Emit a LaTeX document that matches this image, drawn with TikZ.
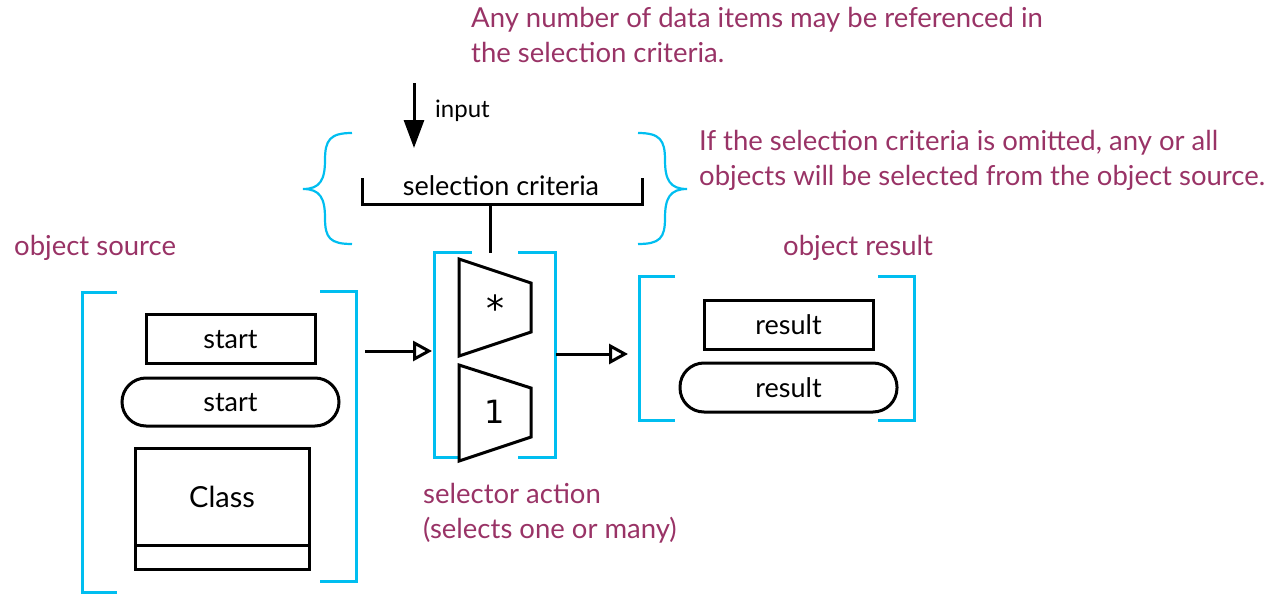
\documentclass[tikz,border=0pt]{standalone}
\usepackage{fontspec}
\setmainfont{Lato}
\newfontfamily\symfont{DejaVu Sans}
\usetikzlibrary{arrows.meta}
\definecolor{note}{HTML}{993366}
\definecolor{brk}{HTML}{00BEF0}
\tikzset{
  blk/.style={draw=black,line width=3pt},
  cy/.style={draw=brk,line width=3pt},
  lbl/.style={font=\fontsize{27}{30}\selectfont,text=black,inner sep=0pt},
  notetext/.style={font=\fontsize{27.5}{35}\selectfont,text=note,inner sep=0pt,anchor=base west},
  openarrow/.style={blk,-{Triangle[open,length=19pt,width=20pt,line width=3pt]}},
}
\begin{document}
\begin{tikzpicture}[x=1pt,y=-1pt]
\useasboundingbox (0,0) rectangle (1282,594);
% notes
\node[notetext] (n1a) at (471,28) {Any number of data items may be referenced in};
\node[notetext] (n1b) at (471,63) {the selection criteria.};
\node[notetext] (n2a) at (699,150) {If the selection criteria is omitted, any or all};
\node[notetext] (n2b) at (699,185) {objects will be selected from the object source.};
\node[notetext] (n3) at (14,255) {object source};
\node[notetext] (n4) at (783,255) {object result};
\node[notetext] (n5a) at (423,503) {selector action};
\node[notetext] (n5b) at (423,538) {(selects one or many)};
% input
\coordinate (inTop) at (414,83);
\coordinate (inTip) at (414,148);
\draw[blk,-{Triangle[length=28pt,width=20pt]}] (inTop) -- (inTip);
\node[lbl,anchor=base west,font=\fontsize{24}{26}\selectfont] (inlbl) at (435,117) {input};
% selection criteria
\node[lbl,anchor=base] (crit) at (501,195) {selection criteria};
\coordinate (cL) at (362,178);
\coordinate (cR) at (642,178);
\coordinate (cStem) at (490,204);
\coordinate (cStemEnd) at (490,253);
\draw[blk] (cL) -- (362,204) -- (642,204) -- (cR);
\draw[blk] (cStem) -- (cStemEnd);
% braces
\draw[cy,line width=2.2pt] (352,133) .. controls (330,133) and (325,140) .. (325,160)
  .. controls (325,180) and (320,189) .. (303,189)
  .. controls (320,189) and (325,198) .. (325,218)
  .. controls (325,238) and (330,244) .. (352,244);
\draw[cy,line width=2.2pt] (638,133) .. controls (660,133) and (665,140) .. (665,160)
  .. controls (665,180) and (670,189) .. (687,189)
  .. controls (670,189) and (665,198) .. (665,218)
  .. controls (665,238) and (660,244) .. (638,244);
% source bracket
\draw[cy] (117,292) -- (82,292) -- (82,592) -- (117,592);
\draw[cy] (320,291) -- (356,291) -- (356,581) -- (320,581);
\coordinate (srcR) at (365,351);
\node[blk,minimum width=169pt,minimum height=49pt,inner sep=0pt] (s1) at (230.5,338.5) {};
\node[lbl,anchor=base] at (230.5,348) {start};
\node[blk,rounded corners=24pt,minimum width=217pt,minimum height=48pt,inner sep=0pt] (s2) at (230.5,402) {};
\node[lbl,anchor=base] at (230.5,411) {start};
\node[blk,minimum width=174pt,minimum height=121pt,inner sep=0pt] (cls) at (222,508.5) {};
\draw[blk] (135,545) -- (309,545);
\node[lbl,anchor=base,font=\fontsize{29}{30}\selectfont] (clsl) at (222,507) {Class};
% selector bracket
\draw[cy] (472,252) -- (434,252) -- (434,457) -- (458,457);
\draw[cy] (518,252) -- (555,252) -- (555,457) -- (518,457);
\coordinate (selL) at (432,351);
\coordinate (selR) at (556,354);
\draw[blk,line join=miter] (459,259) -- (531,283) -- (531,332) -- (459,356) -- cycle;
\draw[blk,line join=miter] (459,365) -- (531,388) -- (531,437) -- (459,461) -- cycle;
\node[inner sep=0pt,anchor=base,font=\symfont\fontsize{36}{36}\selectfont] (star) at (495,321) {*};
\node[inner sep=0pt,anchor=base,font=\symfont\fontsize{32}{32}\selectfont] (one) at (495,423) {1};
% result bracket
\draw[cy] (675,276) -- (639,276) -- (639,420) -- (675,420);
\draw[cy] (878,276) -- (914,276) -- (914,420) -- (878,420);
\coordinate (resL) at (628,354);
\node[blk,minimum width=169pt,minimum height=49pt,inner sep=0pt] (r1) at (788.5,324.5) {};
\node[lbl,anchor=base] at (788.5,334) {result};
\node[blk,rounded corners=24pt,minimum width=217pt,minimum height=49pt,inner sep=0pt] (r2) at (788.5,387.5) {};
\node[lbl,anchor=base] at (788.5,397) {result};
% arrows
\draw[openarrow] (srcR) -- (selL);
\draw[openarrow] (selR) -- (resL);
\end{tikzpicture}
\end{document}
